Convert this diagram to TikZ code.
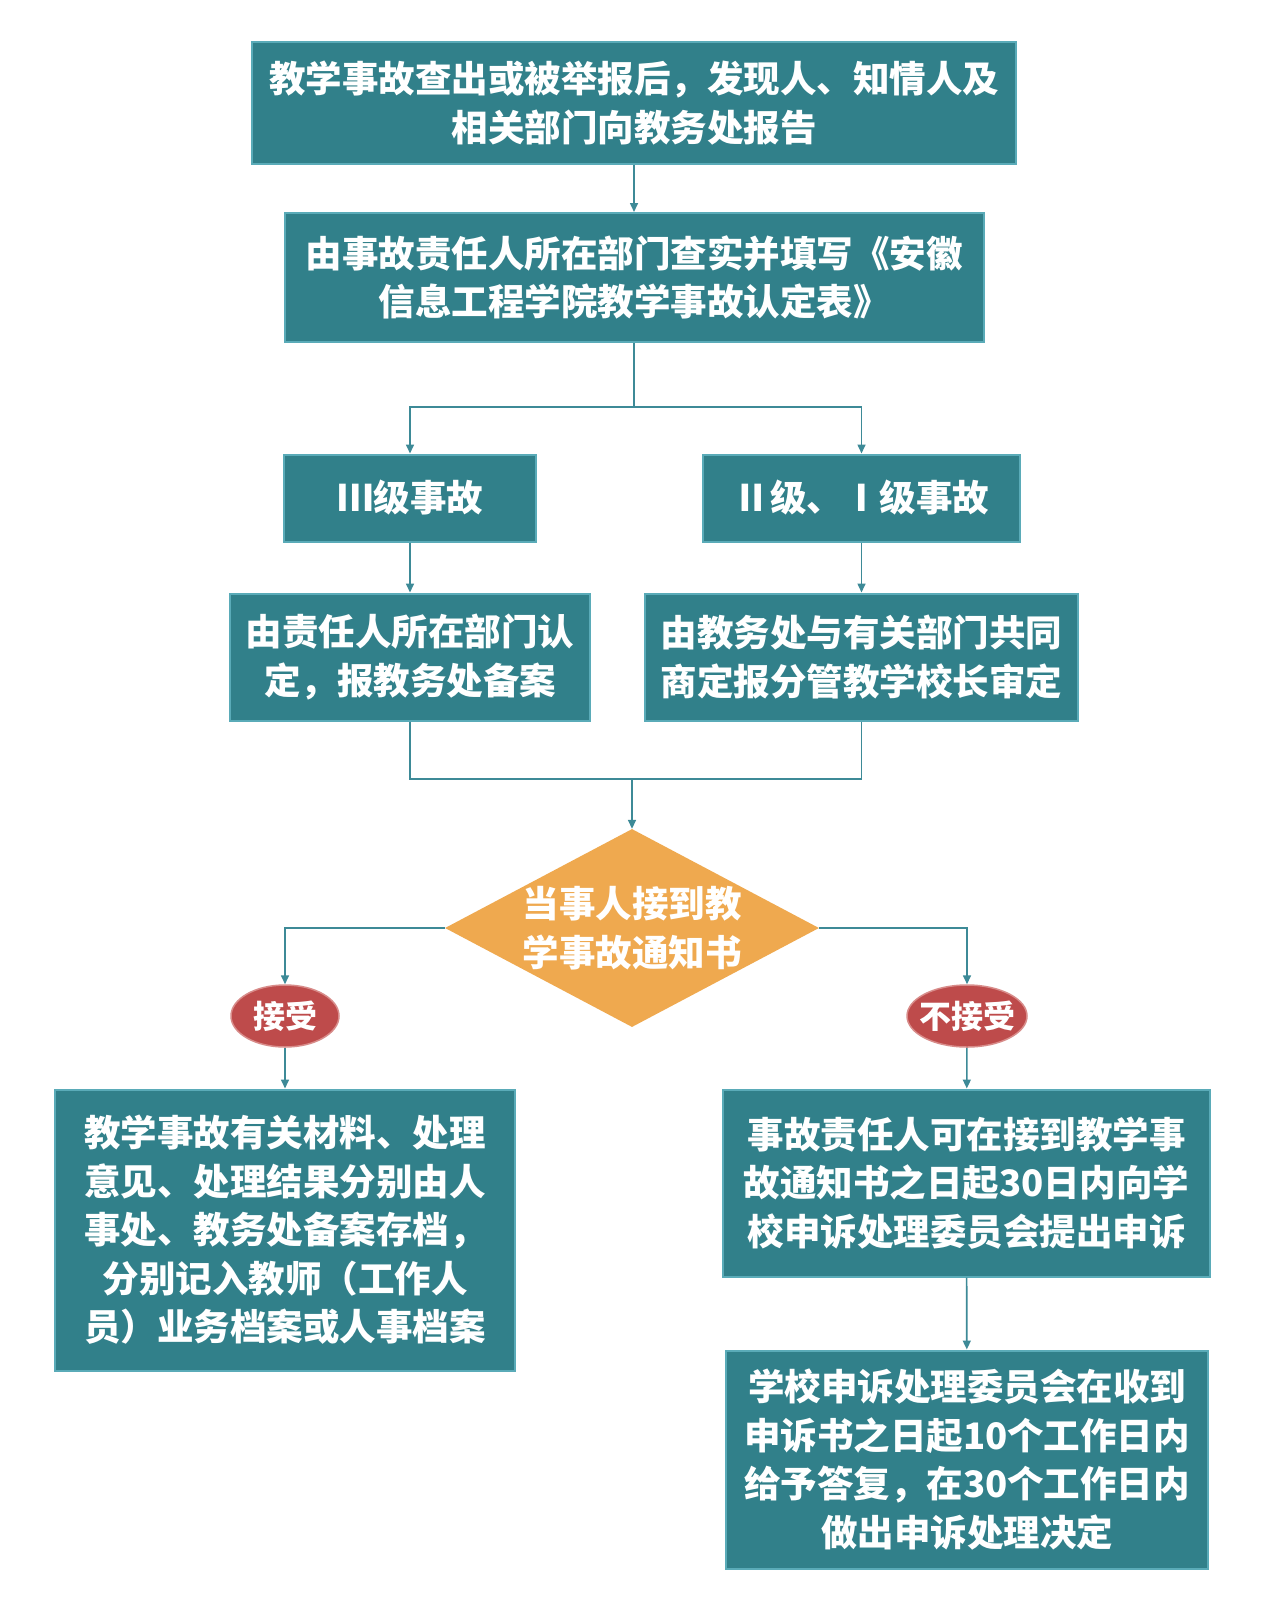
\documentclass[tikz,border=0pt]{standalone}
\usepackage{fontspec}
\newfontfamily\cjk{Noto Sans CJK SC}
\usetikzlibrary{arrows.meta,shapes.geometric}
\definecolor{boxfill}{HTML}{31808A}
\definecolor{boxline}{HTML}{5AABB8}
\definecolor{linec}{HTML}{3D8A97}
\definecolor{diafill}{HTML}{EFA94F}
\definecolor{ellfill}{HTML}{BE4B4B}
\definecolor{ellline}{HTML}{D88C8A}
\newcommand{\bigfont}{\cjk\bfseries\fontsize{36.5}{48.5}\selectfont}
\tikzset{
  stepbox/.style={draw=boxline, fill=boxfill, line width=2pt, text=white,
    font=\bigfont, align=center, inner sep=0pt, rectangle},
  decision/.style={diamond, fill=diafill, text=white, aspect=1.89, inner sep=-2pt,
    minimum width=374pt, minimum height=198pt, font=\bigfont, align=center},
  choice/.style={ellipse, fill=ellfill, draw=ellline, line width=1.5pt, text=white,
    inner xsep=-6pt, inner ysep=0pt, minimum height=62pt,
    font=\cjk\bfseries\fontsize{32}{36}\selectfont},
  conn/.style={draw=linec, line width=1.6pt},
  arr/.style={conn, -{Triangle[length=9pt,width=8pt]}}
}
\begin{document}
\begin{tikzpicture}[x=1pt,y=-1pt]
\useasboundingbox[fill=white] (0,0) rectangle (1271,1600);
\node[stepbox, minimum width=764pt, minimum height=122pt] (b1) at (634,103)
  {教学事故查出或被举报后，发现人、知情人及\\相关部门向教务处报告};
\node[stepbox, minimum width=699pt, minimum height=129pt] (b2) at (634,277.5)
  {由事故责任人所在部门查实并填写《安徽\\信息工程学院教学事故认定表》};
\node[stepbox, minimum width=252pt, minimum height=87pt] (b3) at (410,498)
  {Ⅲ级事故};
\node[stepbox, minimum width=317pt, minimum height=87pt] (b4) at (861.5,498)
  {Ⅱ级、Ⅰ级事故};
\node[stepbox, minimum width=360pt, minimum height=127pt] (b5) at (410,657)
  {由责任人所在部门认\\定，报教务处备案};
\node[stepbox, minimum width=433pt, minimum height=127pt] (b6) at (861.5,657)
  {由教务处与有关部门共同\\商定报分管教学校长审定};
\node[decision] (dia) at (632,928) {当事人接到教\\学事故通知书};
\node[choice, minimum width=108pt] (e1) at (285,1016) {接受};
\node[choice, minimum width=120pt] (e2) at (967,1016) {不接受};
\node[stepbox, minimum width=460pt, minimum height=281pt] (b7) at (285,1230)
  {教学事故有关材料、处理\\意见、处理结果分别由人\\事处、教务处备案存档，\\分别记入教师（工作人\\员）业务档案或人事档案};
\node[stepbox, minimum width=487pt, minimum height=187pt] (b8) at (966.5,1183)
  {事故责任人可在接到教学事\\故通知书之日起30日内向学\\校申诉处理委员会提出申诉};
\node[stepbox, minimum width=482pt, minimum height=218pt] (b9) at (967,1459.5)
  {学校申诉处理委员会在收到\\申诉书之日起10个工作日内\\给予答复，在30个工作日内\\做出申诉处理决定};
\coordinate (split) at (634,407);
\coordinate (merge) at (632,779);
\draw[arr] (b1) -- (b2);
\draw[conn] (b2.south) -- (split);
\draw[arr] (split) -| (b3.north);
\draw[arr] (split) -| (b4.north);
\draw[arr] (b3) -- (b5);
\draw[arr] (b4) -- (b6);
\draw[conn] (b5.south) |- (merge);
\draw[conn] (b6.south) |- (merge);
\draw[arr] (merge) -- (dia.north);
\draw[arr] (dia.west) -| (e1.north);
\draw[arr] (dia.east) -| (e2.north);
\draw[arr] (e1) -- (b7);
\draw[arr] (e2) -- (b8);
\draw[arr] (b8) -- (b9);
\end{tikzpicture}
\end{document}
